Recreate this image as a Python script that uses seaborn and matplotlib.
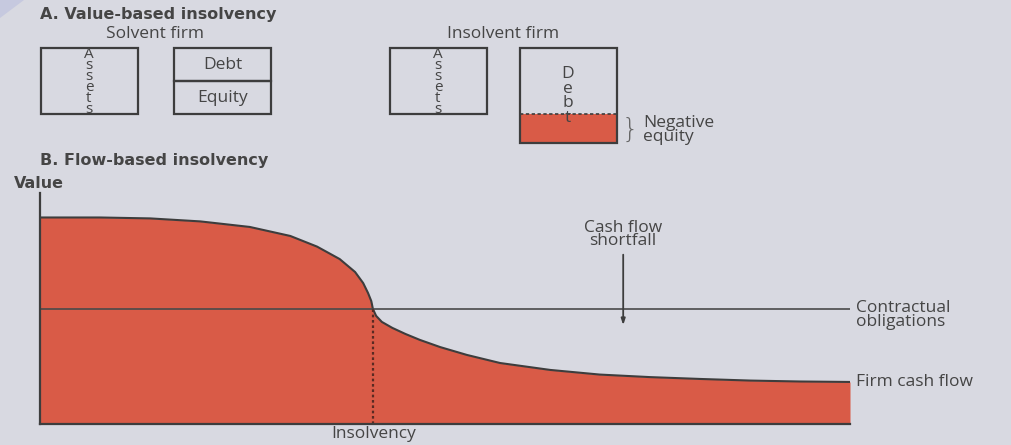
import seaborn as sns
import matplotlib.pyplot as plt
import pandas as pd

# ---------------- DATA ---------------- #
# panel A: balance sheets (assets = 100)
solvent_assets = 100
solvent_debt = 50
solvent_equity = 50
insolvent_assets = 100
insolvent_debt = 144
negative_equity = 44

# panel B: firm cash flow over time (both axes 0-100)
time = [0, 7.4, 13.6, 19.8, 25.9, 30.9, 34.2, 37.0, 38.9, 39.9, 40.5, 40.9, 41.1,
        41.5, 42.2, 43.5, 45.1, 46.9, 49.4, 52.7, 56.8, 63.0, 69.1, 75.3, 81.5,
        87.7, 93.8, 100]
cash_flow = [89.4, 89.4, 89.0, 87.7, 85.3, 81.4, 76.8, 71.4, 65.8, 61.0, 56.7, 53.2,
             49.8, 46.8, 44.2, 41.6, 39.0, 36.4, 33.3, 29.9, 26.4, 23.4, 21.4, 20.3,
             19.5, 18.8, 18.4, 18.2]
obligations = 50
insolvency_time = 41.1
shortfall_time = 72.0

df = pd.DataFrame({"time": time, "cash_flow": cash_flow})

BG = "#d8d9e1"
RED = "#d95b47"
INK = "#3d3d3d"
TXT = "#454545"
FS = 12.5
BOLD = dict(fontsize=11.5, fontweight="bold", family="DejaVu Sans", color=TXT)

sns.set_theme(style="white", rc={"figure.facecolor": BG, "axes.facecolor": BG})
plt.rcParams['font.family'] = ['Open Sans', 'DejaVu Sans']

fig = plt.figure(figsize=(10.11, 4.45), dpi=100)

# ---------------- PANEL A ---------------- #
# pixel scale: 66 px = 100 units, baseline at y=114 px
axA = fig.add_axes([0, (445 - 150) / 445, 1, 110 / 445])
axA.set_xlim(0, 1011)
axA.set_ylim(-54.5, 112.1)
axA.axis("off")
box = dict(width=97, edgecolor=INK, linewidth=1.6, facecolor="none")
axA.bar(89, solvent_assets, **box)
axA.bar(222.5, solvent_equity, **box)
axA.bar(222.5, solvent_debt, bottom=solvent_equity, **box)
axA.bar(438, insolvent_assets, **box)
axA.bar(568, negative_equity, bottom=-negative_equity, width=97, color=RED, linewidth=0)
axA.bar(568, insolvent_debt, bottom=-negative_equity, **box)
axA.plot([520, 616], [0, 0], color=INK, lw=1.2, ls=(0, (2, 1.5)))

# ---------------- PANEL B ---------------- #
axB = fig.add_axes([40 / 1011, 21 / 445, 810 / 1011, 231 / 445])
axB.fill_between(df["time"], df["cash_flow"], 0, color=RED, linewidth=0)
sns.lineplot(data=df, x="time", y="cash_flow", sort=False, color=INK, lw=1.5, ax=axB)
axB.axhline(obligations, color="#4a4a4a", lw=1.2)
axB.plot([insolvency_time, insolvency_time], [0, obligations], color="#5a2a22",
         lw=1.6, ls=(0, (1.2, 1.2)))
axB.annotate("", xy=(shortfall_time, 41.6), xytext=(shortfall_time, 74.5),
             arrowprops=dict(arrowstyle="-|>,head_length=0.3,head_width=0.1",
                             color=INK, lw=1.3))
axB.text(shortfall_time, 82, "Cash flow\nshortfall", ha="center", va="center",
         fontsize=FS, color=TXT, linespacing=0.8)
axB.set_xlim(0, 100)
axB.set_ylim(0, 100)
axB.set_xlabel("")
axB.set_ylabel("")
axB.set_xticks([])
axB.set_yticks([])
for side in ["top", "right"]:
    axB.spines[side].set_visible(False)
for side in ["left", "bottom"]:
    axB.spines[side].set_color(INK)
    axB.spines[side].set_linewidth(1.6)

# ---------------- TEXT (pixel overlay) ---------------- #
ov = fig.add_axes([0, 0, 1, 1], facecolor="none")
ov.set_xlim(0, 1011)
ov.set_ylim(445, 0)
ov.axis("off")

# faint corner shading
ov.fill([0, 24, 0], [0, 0, 18], color="#c6c9df", linewidth=0)

ov.text(40, 14, "A. Value-based insolvency", va="center", **BOLD)
ov.text(155, 34, "Solvent firm", fontsize=FS, color=TXT, ha="center", va="center")
ov.text(503, 34, "Insolvent firm", fontsize=FS, color=TXT, ha="center", va="center")
ov.text(89, 82, "A\ns\ns\ne\nt\ns", fontsize=11, color=TXT, ha="center", va="center",
        linespacing=0.62)
ov.text(438, 82, "A\ns\ns\ne\nt\ns", fontsize=11, color=TXT, ha="center", va="center",
        linespacing=0.62)
ov.text(222.5, 65, "Debt", fontsize=FS, color=TXT, ha="center", va="center")
ov.text(222.5, 98, "Equity", fontsize=FS, color=TXT, ha="center", va="center")
ov.text(568, 96, "D\ne\nb\nt", fontsize=FS, color=TXT, ha="center", va="center",
        linespacing=0.88)
ov.text(630, 129, "}", fontsize=19, color="#666666", ha="center", va="center",
        fontweight="light", family="DejaVu Sans")
ov.text(643, 130, "Negative\nequity", fontsize=FS, color=TXT, ha="left", va="center",
        linespacing=0.8)

ov.text(40, 160, "B. Flow-based insolvency", va="center", **BOLD)
ov.text(14, 184, "Value", va="center", **BOLD)
ov.text(374, 434, "Insolvency", fontsize=FS, color=TXT, ha="center", va="center")
ov.text(856, 315, "Contractual\nobligations", fontsize=FS, color=TXT, ha="left",
        va="center", linespacing=0.8)
ov.text(856, 382, "Firm cash flow", fontsize=FS, color=TXT, ha="left", va="center")

fig.savefig("out.png", dpi=100, facecolor=BG)
